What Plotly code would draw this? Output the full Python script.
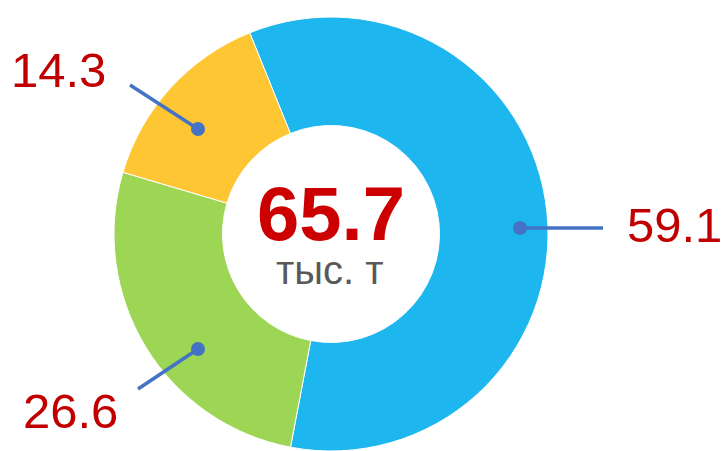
import plotly.graph_objects as go

# данные
labels = ["Синий", "Зелёный", "Жёлтый"]
values = [59.1, 26.6, 14.3]
colors = ["#1DB6EE", "#9DD655", "#FFC633"]
total_text = "65.7"
unit_text = "тыс. т"

W, H = 722, 451


def px(x, y):
    # пиксели -> доли холста
    return x / W, 1 - y / H


fig = go.Figure(
    go.Pie(
        labels=labels,
        values=values,
        hole=0.5,
        sort=False,
        direction="clockwise",
        rotation=-22,
        marker=dict(colors=colors, line=dict(color="white", width=1)),
        textinfo="none",
        hoverinfo="label+value",
        domain=dict(x=[113 / W, 549 / W], y=[0, 1 - 17 / H]),
        showlegend=False,
    )
)

# подписи и выноски
label_pos = [(625, 225, "left"), (70, 411, "center"), (58, 70, "center")]
dots = [(520, 228), (198, 349), (198, 129)]
ends = [(603, 228), (138, 389), (130, 85)]

shapes = []
annotations = []
for v, (lx, ly, anchor), (dx, dy), (ex, ey) in zip(values, label_pos, dots, ends):
    x0, y0 = px(dx, dy)
    x1, y1 = px(ex, ey)
    shapes.append(dict(type="line", xref="paper", yref="paper", x0=x0, y0=y0, x1=x1, y1=y1,
                       line=dict(color="#4472C4", width=3.5)))
    shapes.append(dict(type="circle", xref="paper", yref="paper",
                       x0=x0 - 7 / W, x1=x0 + 7 / W, y0=y0 - 7 / H, y1=y0 + 7 / H,
                       fillcolor="#4472C4", line=dict(width=0)))
    ax, ay = px(lx, ly)
    annotations.append(dict(text=f"{v:.1f}", x=ax, y=ay, xref="paper", yref="paper",
                            xanchor=anchor, yanchor="middle", showarrow=False,
                            font=dict(family="Liberation Sans, Arial", size=49, color="#C00000")))

cx, cy = px(331, 213)
annotations.append(dict(text=f"<b>{total_text}</b>", x=cx, y=cy, xref="paper", yref="paper",
                        showarrow=False, xanchor="center", yanchor="middle",
                        font=dict(family="Liberation Sans, Arial", size=76, color="#CC0000")))
ux, uy = px(330, 270)
annotations.append(dict(text=unit_text, x=ux, y=uy, xref="paper", yref="paper",
                        showarrow=False, xanchor="center", yanchor="middle",
                        font=dict(family="Liberation Sans, Arial", size=40, color="#595959")))

fig.update_layout(
    width=W,
    height=H,
    margin=dict(l=0, r=0, t=0, b=0),
    paper_bgcolor="white",
    plot_bgcolor="white",
    shapes=shapes,
    annotations=annotations,
)

fig.write_html("out.html", config={"displayModeBar": False},
               post_script="document.body.style.margin='0';")
